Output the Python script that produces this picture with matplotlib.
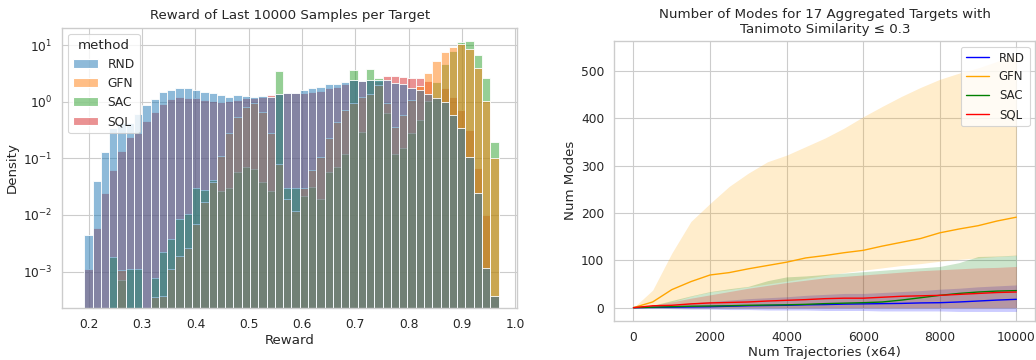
import numpy as np
import pandas as pd
import matplotlib
matplotlib.use("Agg")
import matplotlib.pyplot as plt
import seaborn as sns

# ---- left panel: reward histogram (density per bin)
methods = ["RND", "GFN", "SAC", "SQL"]
bin_lo, bin_hi, n_bins = 0.1912, 0.969, 50

rnd_density = [0.00444, 0.0398, 0.131, 0.338, 0.415, 0.415, 0.598, 0.873, 1.11, 1.50,
               1.61, 1.77, 1.77, 1.61, 1.46, 1.42, 1.31, 1.22, 1.31, 1.26,
               1.22, 1.26, 1.22, 1.35, 1.44, 1.44, 1.61, 1.72, 1.84, 2.02,
               2.02, 2.19, 2.41, 2.35, 2.41, 2.41, 2.41, 2.11, 2.02, 1.72,
               1.61, 1.37, 1.15, 0.99, 0.58, 0.338, 0.107, 0.0241, 0.00115, 0.000377]
gfn_density = [0, 0, 0, 0, 0.00107, 0, 0, 0, 0.00036, 0.000377,
               0.00111, 0.00189, 0.00258, 0.00684, 0.0167, 0.0387, 0.111, 0.276, 0.544, 0.816,
               0.934, 0.666, 0.276, 0.0794, 0.0192, 0.0118, 0.0296, 0.0622, 0.104, 0.225,
               0.444, 0.713, 0.96, 1.19, 1.37, 1.97, 0.934, 0.352, 0.58, 1.07,
               1.89, 3.25, 5.29, 7.63, 9.35, 10.3, 8.39, 3.87, 1.03, 0.1]
sac_density = [0, 0, 0, 0.00184, 0.000713, 0.0011, 0.0011, 0, 0.000762, 0.00225,
               0.00372, 0.0084, 0.0106, 0.0296, 0.0272, 0.0415, 0.0265, 0.0296, 0.0566, 0.0713,
               0.0648, 0.0387, 0.0269, 3.48, 0.0296, 0.0296, 0.0219, 0.0316, 0.0192, 0.0582,
               0.0713, 0.118, 3.62, 0.288, 3.77, 2.65, 0.622, 0.118, 0.15, 0.276,
               0.475, 1.04, 2.19, 4.62, 7.83, 11.5, 11.9, 6.67, 2.58, 0.191]
sql_density = [0.0011, 0.00598, 0.0248, 0.0622, 0.135, 0.241, 0.276, 0.456, 0.648, 0.91,
               1.11, 1.22, 1.18, 1.15, 1.07, 1.03, 1.0, 1.03, 1.07, 1.18,
               1.18, 1.22, 1.31, 1.35, 1.40, 1.44, 1.44, 1.50, 1.56, 1.72,
               1.84, 2.05, 2.41, 2.35, 2.41, 2.30, 2.84, 2.84, 2.76, 2.65,
               2.58, 2.32, 1.22, 1.72, 1.22, 0.713, 0.316, 0.0666, 0.01, 0.000377]

# ---- right panel: number of modes vs trajectories (mean, lower, upper)
traj = [0, 500, 1000, 1500, 2000, 2500, 3000, 3500, 4000, 4500, 5000,
        5500, 6000, 6500, 7000, 7500, 8000, 8500, 9000, 9500, 10000]

rnd_mean = [0, 0.5, 1, 1.5, 2, 3, 4, 4.5, 5, 6, 6.5, 7.5, 8, 8.5, 9, 10, 10.5, 12, 14, 16, 17.6]
rnd_low = [0, -1, -2, -3, -3, -4, -4, -5, -5, -5, -6, -6, -6, -7, -7, -7, -7, -8, -8, -8, -8]
rnd_high = [0, 2, 6, 10, 13, 16, 19, 21, 23, 26, 28, 30, 30, 32, 34, 36, 39, 41, 44, 46, 48]

gfn_mean = [0, 12, 38, 55, 69, 74, 82, 89, 96, 105, 110, 116, 121, 130, 138, 146, 158, 166, 173, 183, 191]
gfn_low = [0, 3, 12, 24, 33, 38, 44, 50, 56, 62, 68, 74, 79, 84, 89, 93, 98, 102, 105, 108, 110]
gfn_high = [0, 37, 115, 182, 220, 256, 284, 308, 322, 340, 358, 379, 403, 425, 446, 465, 482, 495, 506, 520, 536]

sac_mean = [0, 1, 2, 3, 3.5, 4, 5, 5.5, 6, 7, 8.5, 9.5, 10.5, 12, 16, 21, 26, 30, 33, 35, 36]
sac_low = [0] * 21
sac_high = [0, 5, 15, 25, 34, 40, 45, 57, 65, 67, 70, 73, 76, 79, 82, 84, 87, 95, 108, 109, 111]

sql_mean = [0, 4, 5, 8, 10, 11, 12, 14, 15.5, 17, 19, 20, 20, 22, 24, 25, 26, 28, 30, 32, 33]
sql_low = [0] * 21
sql_high = [0, 5, 12, 20, 27, 34, 41, 47, 53, 58, 63, 66, 69, 72, 75, 78, 80, 82, 84, 85, 87]

sns.set_theme(style="whitegrid", context="paper")
plt.rcParams["xtick.major.pad"] = 2.5
plt.rcParams["ytick.major.pad"] = 2.5

fig = plt.figure(figsize=(10.36, 3.6), dpi=100)
ax1 = fig.add_axes([0.0601, 0.1436, 0.4392, 0.7794])
ax2 = fig.add_axes([0.5930, 0.1092, 0.4065, 0.7770])

# left: layered histogram
edges = np.linspace(bin_lo, bin_hi, n_bins + 1)
centers = (edges[:-1] + edges[1:]) / 2
df = pd.DataFrame({
    "reward": np.tile(centers, 4),
    "density": np.concatenate([rnd_density, gfn_density, sac_density, sql_density]),
    "method": np.repeat(methods, n_bins),
})
sns.histplot(data=df, x="reward", weights="density", hue="method",
             hue_order=methods, palette="tab10",
             bins=n_bins, binrange=(bin_lo, bin_hi), ax=ax1)
ax1.set_yscale("log")
ax1.set_ylim(2.25e-4, 20.2)
ax1.set_xlim(0.15, 1.004)
ax1.set_title("Reward of Last 10000 Samples per Target")
ax1.set_xlabel("Reward", labelpad=2)
ax1.set_ylabel("Density", labelpad=3)

# right: mode count curves with shaded ranges
series = [
    ("RND", "blue", rnd_mean, rnd_low, rnd_high),
    ("GFN", "orange", gfn_mean, gfn_low, gfn_high),
    ("SAC", "green", sac_mean, sac_low, sac_high),
    ("SQL", "red", sql_mean, sql_low, sql_high),
]
for name, color, mean, low, high in series:
    ax2.plot(traj, mean, color=color, linewidth=1.0, label=name)
    ax2.fill_between(traj, low, high, color=color, alpha=0.2, linewidth=0)

ax2.set_xlim(-500, 10500)
ax2.set_ylim(-27.5, 563)
ax2.set_xticks([0, 2000, 4000, 6000, 8000, 10000])
ax2.set_title("Number of Modes for 17 Aggregated Targets with\nTanimoto Similarity \u2264 0.3")
ax2.set_xlabel("Num Trajectories (x64)", labelpad=1.5)
ax2.set_ylabel("Num Modes", labelpad=3)
ax2.legend(loc="upper right", fontsize=8.5, labelspacing=0.5)

fig.savefig("out.png", dpi=100)
